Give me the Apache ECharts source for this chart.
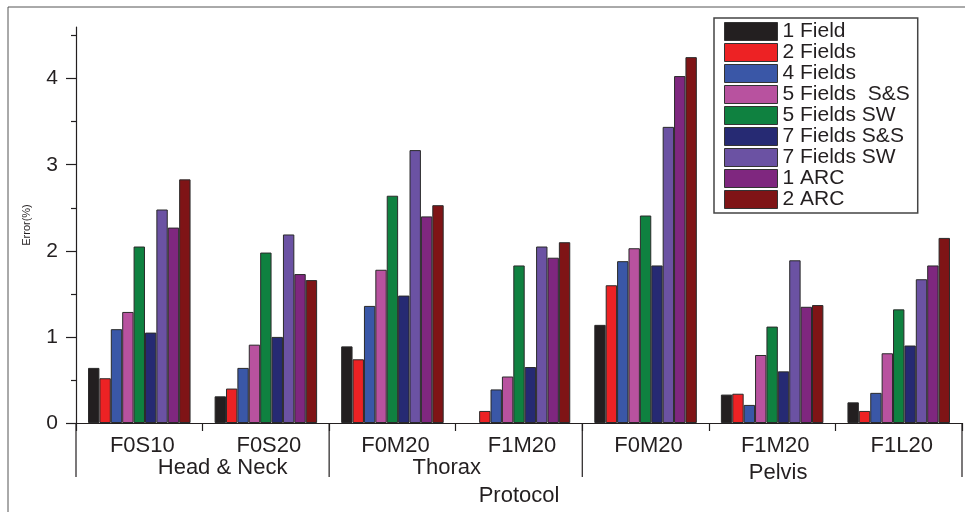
<!DOCTYPE html>
<html>
<head>
<meta charset="utf-8">
<script src="https://cdn.jsdelivr.net/npm/echarts@6/dist/echarts.min.js"></script>
<style>
html,body{margin:0;padding:0;background:#fff;}
#chart{width:965px;height:512px;}
</style>
</head>
<body>
<div id="chart"></div>
<script>
// ---- data ----
var categories = ['F0S10', 'F0S20', 'F0M20', 'F1M20', 'F0M20', 'F1M20', 'F1L20'];
var groupNames = ['Head & Neck', 'Thorax', 'Pelvis'];
var groupSizes = [2, 2, 3];
var seriesNames = ['1 Field', '2 Fields', '4 Fields', '5 Fields  S&S', '5 Fields SW', '7 Fields S&S', '7 Fields SW', '1 ARC', '2 ARC'];
var field1   = [0.64, 0.31, 0.89, 0,    1.14, 0.33, 0.24];
var fields2  = [0.52, 0.40, 0.74, 0.14, 1.60, 0.34, 0.14];
var fields4  = [1.09, 0.64, 1.36, 0.39, 1.88, 0.21, 0.35];
var fields5SS= [1.29, 0.91, 1.78, 0.54, 2.03, 0.79, 0.81];
var fields5SW= [2.05, 1.98, 2.64, 1.83, 2.41, 1.12, 1.32];
var fields7SS= [1.05, 1.00, 1.48, 0.65, 1.83, 0.60, 0.90];
var fields7SW= [2.48, 2.19, 3.17, 2.05, 3.44, 1.89, 1.67];
var arc1     = [2.27, 1.73, 2.40, 1.92, 4.03, 1.35, 1.83];
var arc2     = [2.83, 1.66, 2.53, 2.10, 4.25, 1.37, 2.15];
var yTicks = [0, 1, 2, 3, 4];
var yMinorTicks = [0.5, 1.5, 2.5, 3.5, 4.5];

var seriesData = [field1, fields2, fields4, fields5SS, fields5SW, fields7SS, fields7SW, arc1, arc2];
var colors = ['#231f20', '#ed2224', '#3a57a7', '#b8529f', '#0f8140', '#262a73', '#6b52a3', '#7f277f', '#7f1416'];

var catKeys = categories.map(function (c, i) { return i + '|' + c; });

var FONT = 'Liberation Sans, Arial, sans-serif';
var TXT = '#231f20';

var chart = echarts.init(document.getElementById('chart'), null, { renderer: 'canvas' });

var option = {
  animation: false,
  backgroundColor: '#fff',
  color: colors,
  grid: { left: 76, right: 3, top: 27, bottom: 88, containLabel: false },
  legend: {
    orient: 'vertical',
    left: 714, top: 18,
    itemWidth: 53, itemHeight: 18, itemGap: 0,
    padding: [3, 8, 3, 10],
    borderColor: '#444', borderWidth: 1.5,
    backgroundColor: '#fff',
    icon: 'rect',
    itemStyle: { borderColor: '#333', borderWidth: 1 },
    textStyle: { fontFamily: FONT, fontSize: 21, color: TXT },
    data: seriesNames
  },
  xAxis: {
    type: 'category',
    data: catKeys,
    name: 'Protocol',
    nameLocation: 'middle',
    nameGap: 62,
    nameTextStyle: { fontFamily: FONT, fontSize: 22, color: TXT },
    axisLine: { lineStyle: { color: '#231f20', width: 1.2 } },
    axisTick: { show: true, length: 8, lineStyle: { color: '#231f20', width: 1.2 } },
    axisLabel: {
      margin: 12,
      fontFamily: FONT, fontSize: 22, color: TXT,
      padding: [0, 0, 0, 6],
      formatter: function (v) { return v.split('|')[1]; }
    },
    splitLine: { show: false }
  },
  yAxis: [{
    type: 'value',
    min: 0, max: 4.6,
    name: 'Error(%)',
    nameLocation: 'middle',
    nameGap: 44,
    nameTextStyle: { fontFamily: FONT, fontSize: 11, color: TXT },
    axisLine: { show: true, lineStyle: { color: '#231f20', width: 1.2 } },
    axisTick: { show: true, length: 10, customValues: yTicks, lineStyle: { color: '#231f20', width: 1.2 } },
    axisLabel: { customValues: yTicks, margin: 18, fontFamily: FONT, fontSize: 21, color: TXT },
    splitLine: { show: false }
  }, {
    type: 'value',
    position: 'left',
    min: 0, max: 4.6,
    axisLine: { show: false },
    axisTick: { show: true, length: 5, customValues: yMinorTicks, lineStyle: { color: '#231f20', width: 1.2 } },
    axisLabel: { show: false },
    splitLine: { show: false }
  }],
  series: seriesNames.map(function (name, i) {
    return {
      name: name,
      type: 'bar',
      data: seriesData[i].map(function (v) {
        return v === 0 ? { value: v, itemStyle: { borderWidth: 0 } } : v;
      }),
      barGap: '0%',
      barCategoryGap: '19%',
      itemStyle: { color: colors[i], borderColor: '#2a2a2a', borderWidth: 1 },
      emphasis: { disabled: true }
    };
  })
};

chart.setOption(option);

// group separators and labels placed through the axis scale
function addGroups() {
  var x0 = chart.convertToPixel({ xAxisIndex: 0 }, catKeys[0]);
  var x1 = chart.convertToPixel({ xAxisIndex: 0 }, catKeys[1]);
  var bw = x1 - x0;
  var y0 = chart.convertToPixel({ yAxisIndex: 0 }, 0);
  var elements = [];
  var start = 0;
  var labelOffsets = [[20, 45], [-9, 45], [6, 50]];
  var boundaries = [0];
  groupSizes.forEach(function (s) { start += s; boundaries.push(start); });
  boundaries.forEach(function (b) {
    var xb = x0 - bw / 2 + b * bw;
    elements.push({
      type: 'line', silent: true,
      shape: { x1: xb, y1: y0, x2: xb, y2: y0 + 54 },
      style: { stroke: '#231f20', lineWidth: 1.2 }
    });
  });
  for (var g = 0; g < groupNames.length; g++) {
    var a = x0 - bw / 2 + boundaries[g] * bw;
    var b2 = x0 - bw / 2 + boundaries[g + 1] * bw;
    elements.push({
      type: 'text', silent: true,
      x: (a + b2) / 2 + labelOffsets[g][0], y: y0 + labelOffsets[g][1],
      style: { text: groupNames[g], font: '22px ' + FONT, fill: TXT, align: 'center', verticalAlign: 'middle' }
    });
  }
  // outer frame
  elements.push({
    type: 'rect', silent: true, z: -1,
    shape: { x: 8, y: 7, width: 980, height: 520 },
    style: { fill: null, stroke: '#555', lineWidth: 1 }
  });
  chart.setOption({ graphic: { elements: elements } });
}
addGroups();
</script>
</body>
</html>
